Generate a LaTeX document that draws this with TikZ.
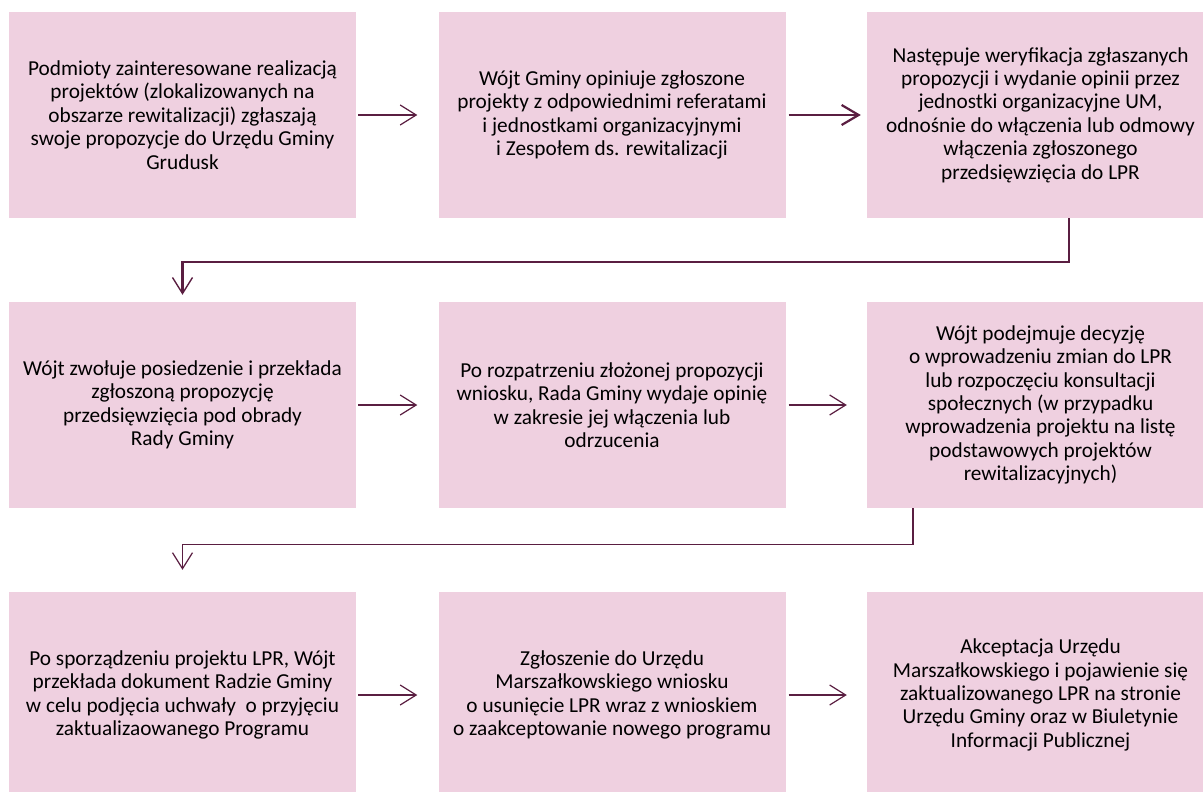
\documentclass[tikz,border=0pt]{standalone}
\usepackage{fontspec}
\setmainfont{Carlito}
\usetikzlibrary{arrows.meta}
\definecolor{boxpink}{RGB}{239,208,224}
\definecolor{arrowc}{RGB}{90,30,65}
\tikzset{
  stepbox/.style={fill=boxpink, draw=none, minimum width=347pt, minimum height=206pt, inner sep=0pt, align=center, font=\fontsize{21.3}{23.4}\selectfont},
  conn/.style={draw=arrowc, line width=1.2pt, -{Straight Barb[length=16pt,width=20pt,line width=1.2pt]}},
  thickconn/.style={draw=arrowc, line width=2.2pt, -{Straight Barb[length=17pt,width=20pt,line width=2.2pt]}}
}
\begin{document}
\begin{tikzpicture}[x=1pt,y=-1pt]
\useasboundingbox (0,0) rectangle (1203,792);
\begin{scope}
\clip (0,0) rectangle (1203,792);
% row 1
\node[stepbox] (b1) at (182.5,115) {Podmioty zainteresowane realizacją\\projektów (zlokalizowanych na\\obszarze rewitalizacji) zgłaszają\\swoje propozycje do Urzędu Gminy\\Grudusk};
\node[stepbox] (b2) at (612,115) {Wójt Gminy opiniuje zgłoszone\\projekty z odpowiednimi referatami\\i jednostkami organizacyjnymi\\i Zespołem ds. rewitalizacji};
\node[stepbox] (b3) at (1040.5,115) {Następuje weryfikacja zgłaszanych\\propozycji i wydanie opinii przez\\jednostki organizacyjne UM,\\odnośnie do włączenia lub odmowy\\włączenia zgłoszonego\\przedsięwzięcia do LPR};
% row 2
\node[stepbox] (b4) at (182.5,405) {Wójt zwołuje posiedzenie i przekłada\\zgłoszoną propozycję\\przedsięwzięcia pod obrady\\Rady Gminy};
\node[stepbox] (b5) at (612,405) {Po rozpatrzeniu złożonej propozycji\\wniosku, Rada Gminy wydaje opinię\\w zakresie jej włączenia lub\\odrzucenia};
\node[stepbox] (b6) at (1040.5,405) {Wójt podejmuje decyzję\\o wprowadzeniu zmian do LPR\\lub rozpoczęciu konsultacji\\społecznych (w przypadku\\wprowadzenia projektu na listę\\podstawowych projektów\\rewitalizacyjnych)};
% row 3
\node[stepbox] (b7) at (182.5,695) {Po sporządzeniu projektu LPR, Wójt\\przekłada dokument Radzie Gminy\\w celu podjęcia uchwały \ o przyjęciu\\zaktualizaowanego Programu};
\node[stepbox] (b8) at (612,695) {Zgłoszenie do Urzędu\\Marszałkowskiego wniosku\\o usunięcie LPR wraz z wnioskiem\\o zaakceptowanie nowego programu};
\node[stepbox] (b9) at (1040.5,695) {Akceptacja Urzędu\\Marszałkowskiego i pojawienie się\\zaktualizowanego LPR na stronie\\Urzędu Gminy oraz w Biuletynie\\Informacji Publicznej};
\end{scope}
% horizontal arrows
\draw[conn, shorten <=2pt, shorten >=21pt] (b1) -- (b2);
\draw[thickconn, shorten <=3pt, shorten >=6pt] (b2) -- (b3);
\draw[conn, shorten <=2pt, shorten >=21pt] (b4) -- (b5);
\draw[conn, shorten <=3pt, shorten >=20pt] (b5) -- (b6);
\draw[conn, shorten <=2pt, shorten >=21pt] (b7) -- (b8);
\draw[conn, shorten <=3pt, shorten >=20pt] (b8) -- (b9);
% elbow connectors
\draw[thickconn, -{Straight Barb[length=16pt,width=20pt,line width=1.4pt]}] ([xshift=28.5pt]b3.south) -- ++(0,44) -| ([yshift=7pt]b4.north);
\draw[conn] ([xshift=-127.5pt]b6.south) -- ++(0,36) -| ([yshift=22pt]b7.north);
\end{tikzpicture}
\end{document}
